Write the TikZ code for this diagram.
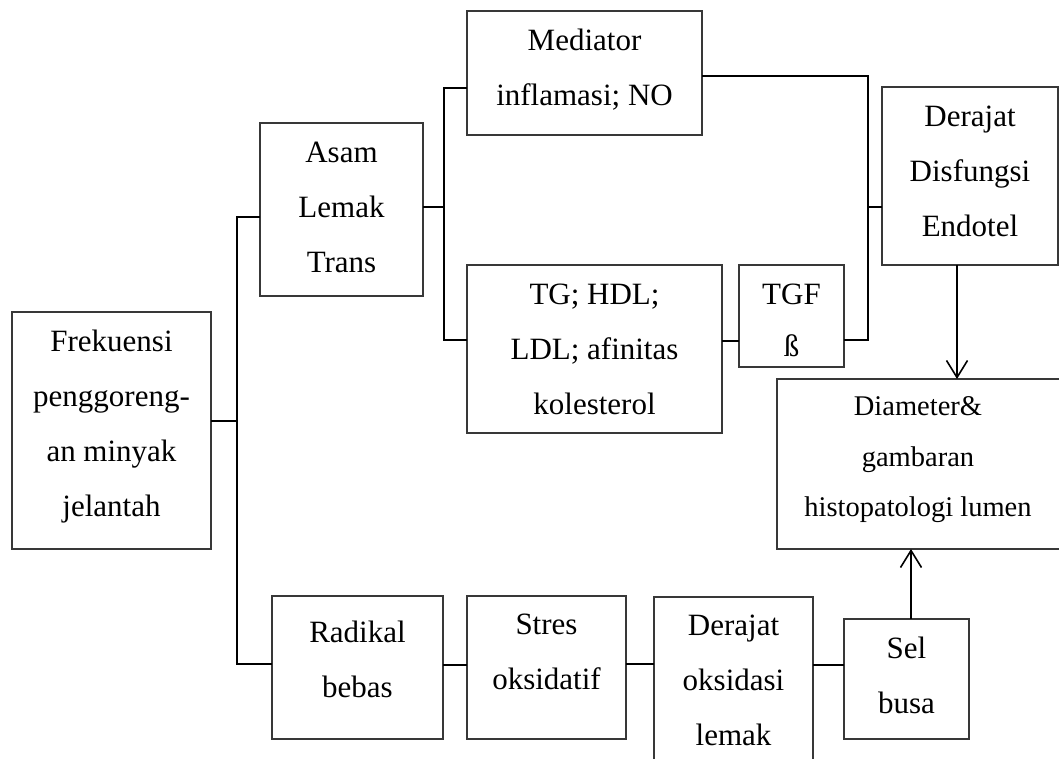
\documentclass[tikz,border=0pt]{standalone}
\usepackage{fontspec}
\setmainfont{Liberation Serif}
\usetikzlibrary{arrows.meta}
\tikzset{
  box/.style={draw=black!78, line width=1.3pt, inner sep=0pt, outer sep=0pt},
  txt/.style={align=center, inner sep=0pt, font=\fontsize{31}{55}\selectfont},
  smalltxt/.style={align=center, inner sep=0pt, font=\fontsize{28.5}{50.5}\selectfont},
  conn/.style={line width=1.6pt, black},
  arr/.style={conn, -{Straight Barb[length=17pt,width=21pt]}}
}
\begin{document}
\begin{tikzpicture}[x=1pt,y=-1pt]
\useasboundingbox (0,0) rectangle (1059,758);
\clip (0,0) rectangle (1059,758);
% boxes
\node[box, minimum width=199pt, minimum height=237pt] (fre) at (111.5,430.5) {};
\node[box, minimum width=163pt, minimum height=173pt] (asam) at (341.5,209.5) {};
\node[box, minimum width=235pt, minimum height=124pt] (med) at (584.5,73) {};
\node[box, minimum width=176pt, minimum height=178pt] (dis) at (970,176) {};
\node[box, minimum width=255pt, minimum height=168pt] (tg) at (594.5,349) {};
\node[box, minimum width=105pt, minimum height=102pt] (tgf) at (791.5,316) {};
\node[box, minimum width=283pt, minimum height=170pt] (dia) at (918.5,464) {};
\node[box, minimum width=171pt, minimum height=143pt] (rad) at (357.5,667.5) {};
\node[box, minimum width=159pt, minimum height=143pt] (str) at (546.5,667.5) {};
\node[box, minimum width=159pt, minimum height=203pt] (oks) at (733.5,698.5) {};
\node[box, minimum width=125pt, minimum height=120pt] (sel) at (906.5,679) {};
% texts
\node[txt] (freT) at (111.5,427) {Frekuensi\\penggoreng-\\an minyak\\jelantah};
\node[txt] (asamT) at (341.5,207.5) {Asam\\Lemak\\Trans};
\node[txt] (medT) at (584.5,70) {Mediator\\inflamasi; NO};
\node[txt] (disT) at (970,171.5) {Derajat\\Disfungsi\\Endotel};
\node[txt] (tgT) at (594.5,349.5) {TG; HDL;\\LDL; afinitas\\kolesterol};
\node[txt, font=\fontsize{31}{52}\selectfont] (tgfT) at (791.5,320.5) {TGF\\ß};
\node[smalltxt] (diaT) at (918,460) {Diameter\&\\gambaran\\histopatologi lumen};
\node[txt] (radT) at (357.5,659) {Radikal\\bebas};
\node[txt] (strT) at (546.5,652) {Stres\\oksidatif};
\node[txt] (oksT) at (733.5,680.5) {Derajat\\oksidasi\\lemak};
\node[txt] (selT) at (906.5,675) {Sel\\busa};
% junction coordinates
\coordinate (j1) at (237,421);
\coordinate (j1t) at (237,217);
\coordinate (j1b) at (237,664);
\coordinate (j2) at (444,207);
\coordinate (j2t) at (444,88);
\coordinate (j2b) at (444,340);
\coordinate (j3t) at (868,76);
\coordinate (j3m) at (868,207);
\coordinate (j3b) at (868,340);
\coordinate (a1) at (957,0);
\coordinate (a2) at (911,0);
\coordinate (r1) at (0,665);
\coordinate (r2) at (0,664);
\coordinate (t1) at (0,341);
% connectors
\draw[conn] (fre.east |- j1) -- (j1);
\draw[conn] (asam.west |- j1t) -- (j1t) -- (j1b) -- (rad.west |- j1b);
\draw[conn] (asam.east |- j2) -- (j2);
\draw[conn] (med.west |- j2t) -- (j2t) -- (j2b) -- (tg.west |- j2b);
\draw[conn] (tg.east |- t1) -- (tgf.west |- t1);
\draw[conn] (med.east |- j3t) -- (j3t) -- (j3b) -- (tgf.east |- j3b);
\draw[conn] (j3m) -- (dis.west |- j3m);
\draw[arr] (dis.south -| a1) -- (dia.north -| a1);
\draw[arr] (sel.north -| a2) -- (dia.south -| a2);
\draw[conn] (rad.east |- r1) -- (str.west |- r1);
\draw[conn] (str.east |- r2) -- (oks.west |- r2);
\draw[conn] (oks.east |- r1) -- (sel.west |- r1);
\end{tikzpicture}
\end{document}
